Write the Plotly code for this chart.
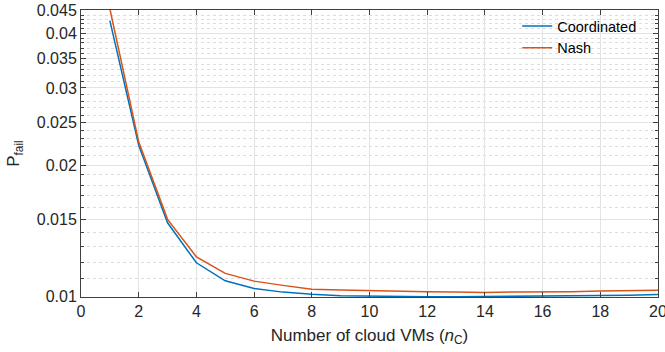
import numpy as np
import plotly.graph_objects as go

n_vms = list(range(1, 21))
coordinated = [0.04275, 0.0222, 0.01476, 0.01196, 0.01088, 0.01045, 0.01025, 0.01013, 0.01006, 0.01003,
               0.01001, 0.01000, 0.01000, 0.01001, 0.01002, 0.01003, 0.01004, 0.01006, 0.01008, 0.01012]
nash = [0.0455, 0.0226, 0.01503, 0.01234, 0.01131, 0.01086, 0.01062, 0.01041, 0.01036, 0.01032,
        0.01029, 0.01027, 0.01026, 0.01023, 0.01026, 0.01025, 0.01027, 0.01031, 0.01032, 0.01035]

y_major = [0.01, 0.015, 0.02, 0.025, 0.03, 0.035, 0.04, 0.045]
y_major_text = ["0.01", "0.015", "0.02", "0.025", "0.03", "0.035", "0.04", "0.045"]
y_minor = [round(0.011 + 0.001 * i, 3) for i in range(35)]
y_minor = [v for v in y_minor if all(abs(v - m) > 1e-9 for m in y_major)]
x_ticks = list(range(0, 21, 2))

fig = go.Figure()
fig.add_trace(go.Scatter(x=n_vms, y=coordinated, mode="lines", name="Coordinated",
                         line=dict(color="#0072BD", width=1.5)))
fig.add_trace(go.Scatter(x=n_vms, y=nash, mode="lines", name="Nash",
                         line=dict(color="#D95319", width=1.5)))

FONT = "Liberation Sans, Arial, sans-serif"
axis_font = dict(family=FONT, size=16, color="#262626")

fig.update_layout(
    width=665, height=352,
    margin=dict(l=81, r=7, t=10, b=55),
    paper_bgcolor="white", plot_bgcolor="white",
    font=axis_font,
    showlegend=True,
    legend=dict(x=0.756, y=1.0, xanchor="left", yanchor="top",
                bgcolor="rgba(255,255,255,0)", borderwidth=0,
                font=dict(family=FONT, size=14.5, color="#000000"),
                tracegroupgap=0),
    xaxis=dict(
        range=[0, 20], tickvals=x_ticks, ticktext=[str(v) for v in x_ticks],
        showgrid=True, gridcolor="#e3e3e3", gridwidth=1,
        showline=True, linecolor="#404040", linewidth=1, mirror="ticks",
        ticks="inside", ticklen=5, tickcolor="#404040",
        tickfont=dict(family=FONT, size=16, color="#262626"),
        zeroline=False, ticklabeloverflow="allow", automargin=False,
        title=dict(text="Number of cloud VMs (<i>n</i><sub>C</sub>)", standoff=9,
                   font=dict(family=FONT, size=17, color="#262626")),
    ),
    yaxis=dict(
        type="log",
        range=[np.log10(0.00999), np.log10(0.0452)],
        tickvals=y_major, ticktext=y_major_text,
        showgrid=True, gridcolor="#e3e3e3", gridwidth=1,
        showline=True, linecolor="#404040", linewidth=1, mirror="ticks",
        ticks="inside", ticklen=5, tickcolor="#404040",
        tickfont=dict(family=FONT, size=16, color="#262626"),
        zeroline=False, ticklabeloverflow="allow", automargin=False,
        minor=dict(tickvals=y_minor, ticks="inside", ticklen=3, tickcolor="#404040",
                   showgrid=True, gridcolor="#dcdcdc", griddash="dot", gridwidth=1),
        title=dict(text="P<sub>fail</sub>", standoff=12, font=dict(family=FONT, size=17, color="#262626")),
    ),
)

fig.write_html("out.html", config={"displayModeBar": False},
               post_script="document.body.style.margin='0';")
